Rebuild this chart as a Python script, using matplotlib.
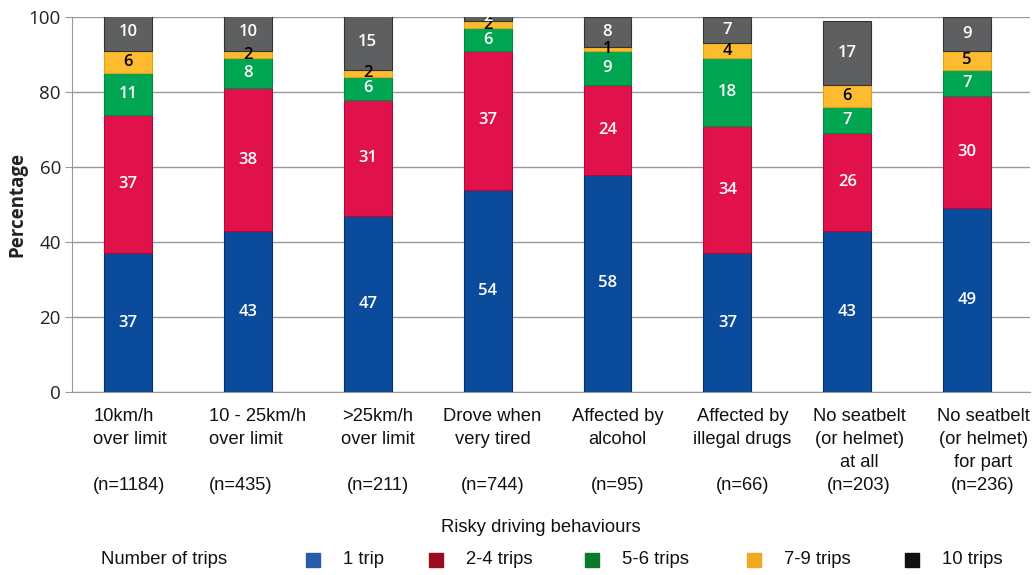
import matplotlib
matplotlib.use("Agg")
import matplotlib.pyplot as plt
from matplotlib.patches import Rectangle
from matplotlib.transforms import blended_transform_factory, offset_copy
import numpy as np

categories = [
    "10km/h\nover limit\n\n(n=1184)",
    "10 - 25km/h\nover limit\n\n(n=435)",
    ">25km/h\nover limit\n\n(n=211)",
    "Drove when\nvery tired\n\n(n=744)",
    "Affected by\nalcohol\n\n(n=95)",
    "Affected by\nillegal drugs\n\n(n=66)",
    "No seatbelt\n(or helmet)\nat all\n(n=203)",
    "No seatbelt\n(or helmet)\nfor part\n(n=236)",
]
series_names = ["1 trip", "2-4 trips", "5-6 trips", "7-9 trips", "10 trips"]
trip_1 = [37, 43, 47, 54, 58, 37, 43, 49]
trip_2_4 = [37, 38, 31, 37, 24, 34, 26, 30]
trip_5_6 = [11, 8, 6, 6, 9, 18, 7, 7]
trip_7_9 = [6, 2, 2, 2, 1, 4, 6, 5]
trip_10 = [10, 10, 15, 2, 8, 7, 17, 9]
yticks = [0, 20, 40, 60, 80, 100]

series = [trip_1, trip_2_4, trip_5_6, trip_7_9, trip_10]
bar_colors = ["#0b4b9b", "#e0114b", "#00a651", "#fdbb30", "#5e5f61"]
edge_colors = ["#06306a", "#b00a38", "#008a40", "#e0a020", "#333333"]
text_colors = ["white", "white", "white", "black", "white"]
legend_colors = ["#2b5ba8", "#9a0b1f", "#0b7a2b", "#efa820", "#111111"]
LBL = "Liberation Sans"

# layout tweaks for the category labels (pixel shifts, alignment)
label_dx = [2, 10, 10, 5, 10, 15, 12, 16]
label_ha = ["left", "left", "center", "center", "center", "center", "center", "center"]

fig = plt.figure(figsize=(10.35, 5.75), dpi=100)
ax = fig.add_axes([0.0696, 0.318, 0.9256, 0.652])

x = np.arange(len(categories))
bottom = np.zeros(len(categories))
for vals, c, ec, tc in zip(series, bar_colors, edge_colors, text_colors):
    vals = np.array(vals, dtype=float)
    ax.bar(x, vals, bottom=bottom, width=0.40, color=c, edgecolor=ec,
           linewidth=0.8, zorder=3)
    for xi, b, v in zip(x, bottom, vals):
        ax.text(xi, b + v / 2, f"{int(v)}", ha="center", va="center",
                color=tc, fontsize=12, fontweight="semibold",
                family="Open Sans", zorder=4, clip_on=False)
    bottom += vals

ax.set_ylim(0, 100)
ax.set_xlim(-0.467, 7.525)
ax.set_yticks(yticks)
ax.set_yticklabels([str(t) for t in yticks], fontsize=13.5, family="Open Sans",
                   color="#222222")
ax.yaxis.grid(True, color="#999999", linewidth=1.0, zorder=0)
ax.set_axisbelow(True)
for s in ["top", "right"]:
    ax.spines[s].set_visible(False)
ax.spines["left"].set_color("#999999")
ax.spines["bottom"].set_color("#999999")
ax.tick_params(axis="y", length=5, color="#999999", pad=3)
ax.set_xticks(x)
ax.set_xticklabels([])
ax.tick_params(axis="x", length=0)
ax.set_ylabel("Percentage", fontsize=13.5, fontweight="bold", family="Open Sans",
              color="#222222", labelpad=1)

trans = blended_transform_factory(ax.transData, ax.transAxes)
fig.canvas.draw()
for xi, lab, dx, ha in zip(x, categories, label_dx, label_ha):
    t = offset_copy(trans, fig=fig, x=dx, y=-16, units="dots")
    ax.text(xi, 0, lab, transform=t, ha="center", va="top",
            multialignment=ha, fontsize=13.2, family=LBL,
            linespacing=1.45, color="#111111")

fig.text(541 / 1035, 1 - 528 / 575, "Risky driving behaviours", ha="center",
         va="center", fontsize=13.2, family=LBL, color="#111111")

# legend row
ly = 1 - 560 / 575
fig.text(101 / 1035, ly, "Number of trips", ha="left", va="center",
         fontsize=13.3, family=LBL, color="#111111")
leg_px = [306, 429, 585, 747, 905]
for px, name, lc in zip(leg_px, series_names, legend_colors):
    fig.patches.append(Rectangle((px / 1035, ly - 7 / 575), 14 / 1035, 14 / 575,
                                 transform=fig.transFigure, color=lc))
    fig.text((px + 37) / 1035, ly, name, ha="left", va="center",
             fontsize=13.3, family=LBL, color="#111111")

fig.savefig("out.png", dpi=100)
